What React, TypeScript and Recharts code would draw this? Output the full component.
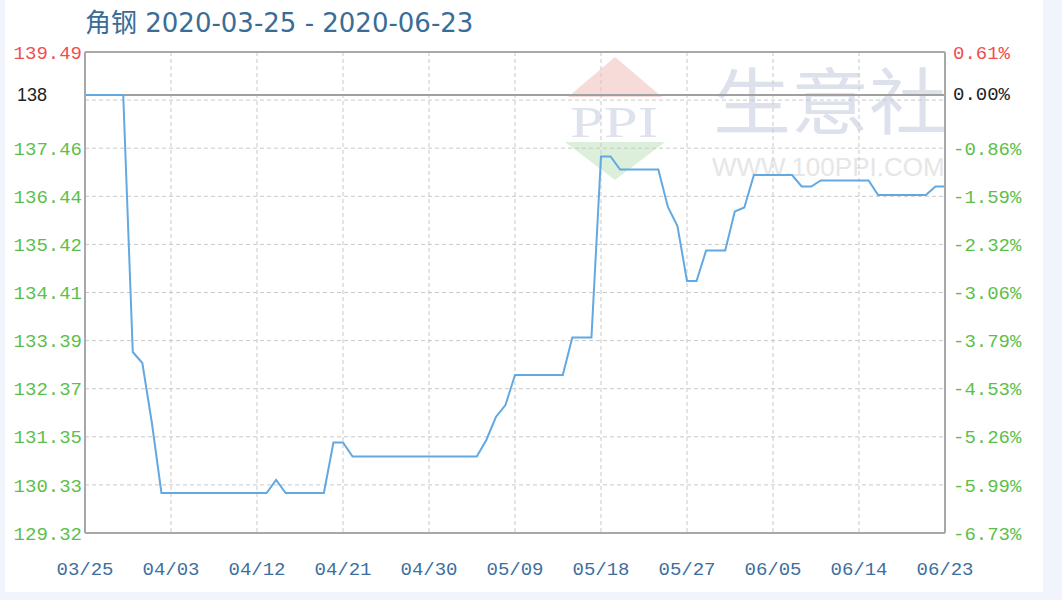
import {
  CartesianGrid,
  Line,
  LineChart,
  ReferenceLine,
  XAxis,
  YAxis,
} from "recharts";

// 角钢 daily price, 2020-03-25 .. 2020-06-23 (91 days)
const prices = [
  138, 138, 138, 138, 138,
  132.86, 132.64, 131.44,
  130.04, 130.04, 130.04, 130.04, 130.04, 130.04, 130.04, 130.04, 130.04, 130.04, 130.04, 130.04,
  130.3,
  130.04, 130.04, 130.04, 130.04, 130.04,
  131.05, 131.05,
  130.77, 130.77, 130.77, 130.77, 130.77, 130.77, 130.77, 130.77, 130.77, 130.77, 130.77, 130.77, 130.77, 130.77,
  131.1, 131.56, 131.8,
  132.4, 132.4, 132.4, 132.4, 132.4, 132.4,
  133.15, 133.15, 133.15,
  136.77, 136.77,
  136.51, 136.51, 136.51, 136.51, 136.51,
  135.76, 135.38,
  134.28, 134.28,
  134.89, 134.89, 134.89,
  135.67, 135.75,
  136.4, 136.4, 136.4, 136.4, 136.4,
  136.17, 136.17,
  136.29, 136.29, 136.29, 136.29, 136.29, 136.29,
  136.0, 136.0, 136.0, 136.0, 136.0, 136.0,
  136.17, 136.17,
];

const xTickLabels = [
  "03/25", "04/03", "04/12", "04/21", "04/30", "05/09",
  "05/18", "05/27", "06/05", "06/14", "06/23",
];

// labels printed on the 11 grid rows, bottom to top ("" = unlabeled row)
const leftLabels = [
  "129.32", "130.33", "131.35", "132.37", "133.39", "134.41",
  "135.42", "136.44", "137.46", "", "139.49",
];
const rightLabels = [
  "-6.73%", "-5.99%", "-5.26%", "-4.53%", "-3.79%", "-3.06%",
  "-2.32%", "-1.59%", "-0.86%", "", "0.61%",
];

const BASE_PRICE = 138;
const Y_MIN = 129.24;
const Y_MAX = 138.86;
const DAY_STEP = 9;

const data = prices.map((price, day) => ({ day, price }));
const xTicks = xTickLabels.map((_, k) => k * DAY_STEP);
const gridTicks = leftLabels.map((_, k) => Y_MIN + (k * (Y_MAX - Y_MIN)) / 10);
const yTicks = [...gridTicks, BASE_PRICE];

const RED = "#f04e4e";
const GREEN = "#5cbf4a";
const MONO = "'Liberation Mono', 'DejaVu Sans Mono', monospace";

function rowIndex(v: number) {
  return gridTicks.findIndex((t) => Math.abs(t - v) < 1e-6);
}

function LeftTick(props: any) {
  const { x, y, payload } = props;
  const v = payload.value as number;
  if (Math.abs(v - BASE_PRICE) < 1e-6) {
    return (
      <text x={x - 35} y={y} dy="0.35em" textAnchor="end" fontSize={18}
        fontFamily="'Liberation Sans', Arial, sans-serif" fill="#222">
        138
      </text>
    );
  }
  const i = rowIndex(v);
  if (i < 0 || !leftLabels[i]) return null;
  return (
    <text x={x} y={y} dy="0.35em" textAnchor="end" fontSize={19} fontFamily={MONO}
      fill={i === 10 ? RED : GREEN}>
      {leftLabels[i]}
    </text>
  );
}

function RightTick(props: any) {
  const { x, y, payload } = props;
  const v = payload.value as number;
  if (Math.abs(v - BASE_PRICE) < 1e-6) {
    return (
      <text x={x} y={y - 2} dy="0.35em" textAnchor="start" fontSize={19} fontFamily={MONO} fill="#222">
        0.00%
      </text>
    );
  }
  const i = rowIndex(v);
  if (i < 0 || !rightLabels[i]) return null;
  return (
    <text x={x} y={y} dy="0.35em" textAnchor="start" fontSize={19} fontFamily={MONO}
      fill={i === 10 ? RED : GREEN}>
      {rightLabels[i]}
    </text>
  );
}

function DateTick(props: any) {
  const { x, y, payload } = props;
  const label = xTickLabels[Math.round(payload.value / DAY_STEP)];
  return (
    <text x={x} y={y + 42} textAnchor="middle" fontSize={19} fontFamily={MONO} fill="#3d6f9e">
      {label}
    </text>
  );
}

function Backdrop() {
  return (
    <svg width={1062} height={600} style={{ position: "absolute", left: 0, top: 0 }}>
      <rect x={0} y={0} width={1062} height={600} fill="#f1f4fa" />
      <rect x={5} y={0} width={1038} height={592} fill="#ffffff" />
      <text x={85} y={32} fontSize={26} fontFamily="'DejaVu Sans', 'Noto Sans CJK SC', sans-serif"
        fill="#3a6d96">
        角钢 2020-03-25 - 2020-06-23
      </text>
      {/* watermark */}
      <polygon points="615,57 568,97 662,97" fill="#f7dbd8" />
      <text x={570} y={137} fontSize={44} fontFamily="'Liberation Serif', serif"
        fill="#dde2ed" textLength={88} lengthAdjust="spacingAndGlyphs">
        PPI
      </text>
      <polygon points="565,142 665,142 615,180" fill="#dbefdb" />
      <text x={713} y={128} fontSize={72} fontFamily="'Noto Sans CJK SC', sans-serif"
        fill="#dce1ec" textLength={234} lengthAdjust="spacingAndGlyphs">
        生意社
      </text>
      <text x={712} y={176} fontSize={26} fontFamily="'Liberation Sans', Arial, sans-serif"
        fill="#e6e6e6">
        WWW.100PPI.COM
      </text>
    </svg>
  );
}

export default function App() {
  return (
    <div style={{ position: "absolute", left: 0, top: 0, width: 1062, height: 600 }}>
      <Backdrop />
      <div style={{ position: "absolute", left: 0, top: 0 }}>
        <LineChart width={1062} height={600} data={data}
          margin={{ top: 52, right: 17, bottom: 27, left: 5 }}>
          <CartesianGrid yAxisId="left" stroke="#c9c9c9" strokeDasharray="4 3" />
          <XAxis dataKey="day" type="number" domain={[0, 90]} ticks={xTicks} interval={0}
            height={40} tickSize={0} tickMargin={0} tick={<DateTick />}
            axisLine={{ stroke: "#a8a8a8", strokeWidth: 2 }} />
          <YAxis yAxisId="left" type="number" domain={[Y_MIN, Y_MAX]} ticks={yTicks} interval={0}
            width={80} tickSize={0} tickMargin={3} tick={<LeftTick />}
            axisLine={{ stroke: "#a8a8a8", strokeWidth: 2 }} />
          <YAxis yAxisId="right" orientation="right" type="number" domain={[Y_MIN, Y_MAX]}
            ticks={yTicks} interval={0} width={100} tickSize={0} tickMargin={8}
            tick={<RightTick />} axisLine={{ stroke: "#a8a8a8", strokeWidth: 2 }} />
          <ReferenceLine yAxisId="left" y={Y_MAX} stroke="#a8a8a8" strokeWidth={2} />
          <ReferenceLine yAxisId="left" y={BASE_PRICE} stroke="#a0a0a0" strokeWidth={2} />
          {/* same series bound to the right axis so that axis gets drawn; kept invisible */}
          <Line yAxisId="right" type="linear" dataKey="price" stroke="none" dot={false}
            activeDot={false} isAnimationActive={false} />
          <Line yAxisId="left" type="linear" dataKey="price" stroke="#62a8e2" strokeWidth={2}
            dot={false} activeDot={false} isAnimationActive={false} />
        </LineChart>
      </div>
    </div>
  );
}
